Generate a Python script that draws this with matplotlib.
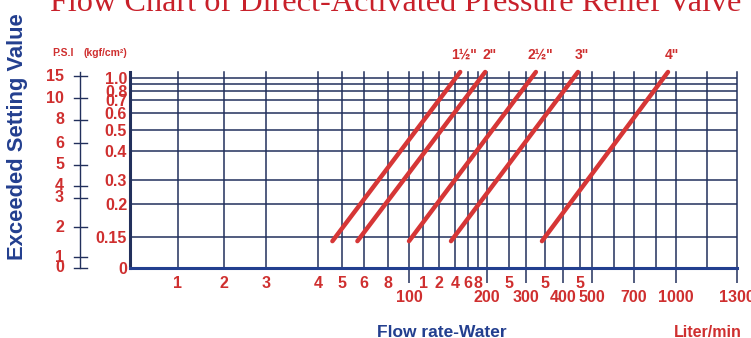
import numpy as np
import matplotlib
matplotlib.use("Agg")
import matplotlib.pyplot as plt

plt.rcParams['font.family'] = ['Liberation Sans', 'DejaVu Sans']

# valve sizes and the flow range (L/min) each line covers, from ~0.13 to 1.1 kgf/cm2
sizes = ['1½"', '2"', '2½"', '3"', '4"']
flow_lo = [46, 57, 100, 135, 342]
flow_hi = [148, 196, 326, 444, 920]
kgf_lo = [0.13, 0.13, 0.13, 0.13, 0.13]
kgf_hi = [1.1, 1.1, 1.1, 1.1, 1.1]

# x axis: grid flow values and tick labels (two rows as on the printed chart)
grid_flows = [0, 10, 20, 30, 40, 50, 60, 80, 100, 110, 120, 140, 160, 180, 200,
              250, 300, 350, 400, 450, 500, 600, 700, 800, 1000, 1150, 1300]
row1_flows = [10, 20, 30, 40, 50, 60, 80, 110, 120, 140, 160, 180, 250, 350, 450]
row1_labels = ['1', '2', '3', '4', '5', '6', '8', '1', '2', '4', '6', '8', '5', '5', '5']
row2_flows = [100, 200, 300, 400, 500, 700, 1000, 1300]
row2_labels = ['100', '200', '300', '400', '500', '700', '1000', '1300']

# y axis: kgf/cm2 levels and the P.S.I marks beside them
kgf_levels = [0, 0.15, 0.2, 0.3, 0.4, 0.5, 0.6, 0.7, 0.8, 0.9, 1.0, 1.1]
kgf_lines = [0.15, 0.2, 0.3, 0.4, 0.5, 0.6, 0.7, 0.8, 0.9, 1.0]
kgf_ticks = [0, 0.15, 0.2, 0.3, 0.4, 0.5, 0.6, 0.7, 0.8, 1.0]
kgf_labels = ['0', '0.15', '0.2', '0.3', '0.4', '0.5', '0.6', '0.7', '0.8', '1.0']
psi_labels = ['15', '10', '8', '6', '5', '4', '3', '2', '1', '0']
psi_at_kgf = [1.033, 0.722, 0.559, 0.438, 0.352, 0.275, 0.225, 0.165, 0.053, 0.0]

# the printed chart is hand-spaced: where each grid value sits along its axis (0..1)
x_frac = np.array([0, 48, 94, 136, 188, 212, 234, 258, 279, 293, 309, 325, 338, 348, 357,
                   379, 396, 415, 433, 450, 462, 484, 504, 526, 546, 577, 607]) / 607
y_frac = np.array([0, 31, 64, 88, 117, 138, 155, 168, 177, 184, 190, 196]) / 196

RED = '#cf2f2f'
LINE_RED = '#d63636'
NAVY = '#22305c'
BLUE = '#233f8f'

W, H = 751, 338
fig = plt.figure(figsize=(W / 100, H / 100), dpi=100)
ax = fig.add_axes([130 / W, 70 / H, 607 / W, 196 / H])

gx = np.array(grid_flows, dtype=float)
gy = np.array(kgf_levels, dtype=float)
ax.set_xscale('function', functions=(lambda v: np.interp(v, gx, x_frac),
                                     lambda f: np.interp(f, x_frac, gx)))
ax.set_yscale('function', functions=(lambda v: np.interp(v, gy, y_frac),
                                     lambda f: np.interp(f, y_frac, gy)))
ax.set_xlim(0, 1300)
ax.set_ylim(0, 1.1)

# grid
for f in grid_flows[1:]:
    ax.axvline(f, color=NAVY, lw=1.1, clip_on=False, zorder=1)
for k in kgf_lines:
    ax.axhline(k, color=NAVY, lw=1.1, zorder=1)

# flow lines
for lo, hi, klo, khi in zip(flow_lo, flow_hi, kgf_lo, kgf_hi):
    ax.plot([lo, hi], [klo, khi], color=LINE_RED, lw=3.2, solid_capstyle='round',
            clip_on=False, zorder=3)
for name, hi, khi in zip(sizes, flow_hi, kgf_hi):
    ax.annotate(name, (hi, khi), xytext=(4, 17), textcoords='offset pixels',
                ha='center', va='center', color=RED, fontsize=10, fontweight='bold')

for s in ['top', 'right']:
    ax.spines[s].set_visible(False)
ax.spines['left'].set_color(NAVY)
ax.spines['left'].set_linewidth(2.2)
ax.spines['bottom'].set_color(BLUE)
ax.spines['bottom'].set_linewidth(2.2)

lab = dict(color=RED, fontsize=11.5, fontweight='bold')
ax.set_xticks(row1_flows, row1_labels, **lab)
ax.set_xticks(row2_flows, row2_labels, minor=True, **lab)
ax.tick_params(axis='x', which='major', length=0, pad=6)
ax.tick_params(axis='x', which='minor', length=11, width=1.1, color=NAVY,
               direction='out', pad=5)
ax.set_yticks(kgf_ticks, kgf_labels, **lab)
ax.tick_params(axis='y', length=0, pad=2)
ax.yaxis.set_minor_locator(matplotlib.ticker.NullLocator())

# P.S.I scale to the left
tr = ax.get_yaxis_transform()
x_psi = (80 - 130) / 607
ax.plot([x_psi, x_psi], [0, 1.1], transform=tr, color=NAVY, lw=1.0, clip_on=False)
for p, k in zip(psi_labels, psi_at_kgf):
    ax.plot([(74 - 130) / 607, (87 - 130) / 607], [k, k], transform=tr,
            color=NAVY, lw=1.0, clip_on=False)
    ax.text((64 - 130) / 607, k, p, transform=tr, ha='right', va='center', **lab)

fig.text(52 / W, 1 - 53 / H, 'P.S.I', ha='left', va='center',
         color=RED, fontsize=7.5, fontweight='bold')
fig.text(83 / W, 1 - 53 / H, '(kgf/cm²)', ha='left', va='center',
         color=RED, fontsize=7.5, fontweight='bold')

fig.text(50 / W, 1 - 11 / H, 'Flow Chart of Direct-Activated Pressure Relief Valve',
         ha='left', va='baseline', color='#c8202a', fontsize=23.2,
         family='Liberation Serif')
fig.text(18 / W, 1 - 137 / H, 'Exceeded Setting Value', rotation=90,
         ha='center', va='center', color=BLUE, fontsize=15.8, fontweight='bold')
fig.text(442 / W, 0.004, 'Flow rate-Water', ha='center', va='baseline',
         color=BLUE, fontsize=12.5, fontweight='bold')
fig.text(742 / W, 0.004, 'Liter/min', ha='right', va='baseline',
         color=RED, fontsize=11.5, fontweight='bold')

fig.savefig('out.png', dpi=100)
